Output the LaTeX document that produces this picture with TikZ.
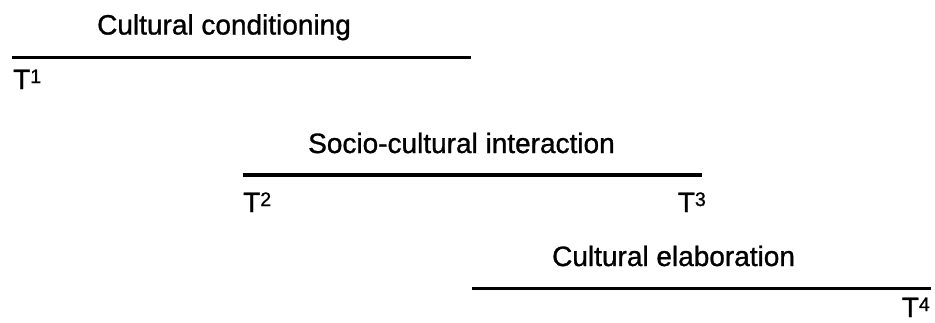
\documentclass[tikz,border=0pt]{standalone}
\usepackage{fontspec}
\setmainfont[FakeBold=1]{Liberation Sans}
\begin{document}
\begin{tikzpicture}[x=1pt,y=1pt,
  phase/.style={anchor=base west,inner sep=0pt,font=\fontsize{28}{32}\selectfont},
  tick/.style={inner sep=0pt,font=\fontsize{28}{32}\selectfont},
  span/.style={line width=3.4pt}]
\useasboundingbox (0,0) rectangle (935,-322);
\newcommand{\tmark}[1]{T\raisebox{6pt}{\fontsize{19.5}{20}\selectfont #1}}

% first phase
\coordinate (s1) at (12,-57.5);
\coordinate (e1) at (471,-57.5);
\draw[span] (s1) -- (e1);
\node[phase] (p1) at (97,-34.5) {Cultural conditioning};
\node[tick,anchor=base west] (t1) at (13,-89) {\tmark{1}};

% second phase
\coordinate (s2) at (243,-175);
\coordinate (e2) at (702,-175);
\draw[span] (s2) -- (e2);
\node[phase] (p2) at (308,-153) {Socio-cultural interaction};
\node[tick,anchor=base west] (t2) at (243,-212) {\tmark{2}};
\node[tick,anchor=base east] (t3) at (706,-212) {\tmark{3}};

% third phase
\coordinate (s3) at (472,-288.5);
\coordinate (e3) at (931,-288.5);
\draw[span] (s3) -- (e3);
\node[phase] (p3) at (552,-266) {Cultural elaboration};
\node[tick,anchor=base east] (t4) at (930,-317) {\tmark{4}};
\end{tikzpicture}
\end{document}
